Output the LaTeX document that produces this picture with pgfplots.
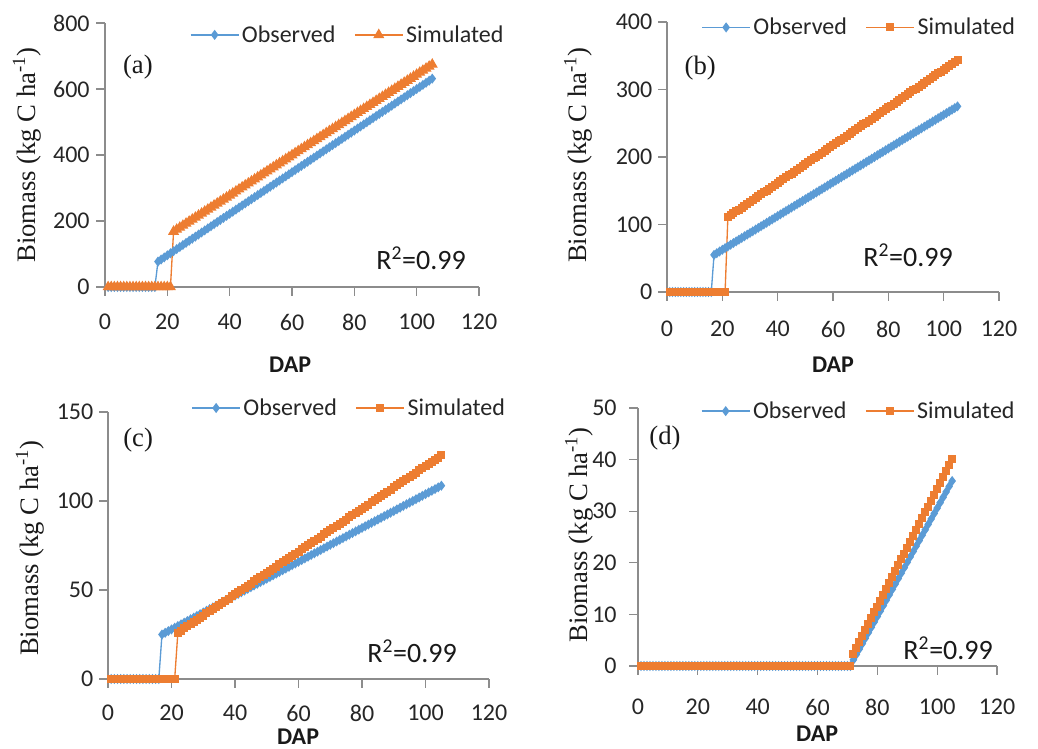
\documentclass[border=0pt]{standalone}
\usepackage{pgfplots}
\usepackage{pgfplotstable}
\pgfplotsset{compat=1.18}
\usepackage{fontspec}
\setmainfont{Carlito}
\newfontfamily\timesf{Liberation Serif}
\definecolor{obs}{HTML}{5B9BD5}
\definecolor{sim}{HTML}{ED7D31}
\definecolor{axgray}{HTML}{8C8C8C}

\pgfplotstableread{
d o s
1 0 0
2 0 0
3 0 0
4 0 0
5 0 0
6 0 0
7 0 0
8 0 0
9 0 0
10 0 0
11 0 0
12 0 0
13 0 0
14 0 0
15 0 0
16 0 0
17 77.0 0
18 83.3 0
19 89.6 0
20 95.9 0
21 102.2 0
22 108.5 168.0
23 114.8 174.1
24 121.1 180.2
25 127.4 186.3
26 133.7 192.4
27 140.0 198.5
28 146.3 204.6
29 152.6 210.7
30 158.9 216.8
31 165.2 222.9
32 171.5 229.0
33 177.8 235.1
34 184.1 241.2
35 190.4 247.3
36 196.7 253.4
37 203.0 259.5
38 209.3 265.6
39 215.6 271.7
40 221.9 277.8
41 228.2 283.9
42 234.5 290.0
43 240.8 296.1
44 247.1 302.2
45 253.4 308.3
46 259.7 314.4
47 266.0 320.5
48 272.3 326.6
49 278.6 332.7
50 284.9 338.8
51 291.2 344.9
52 297.5 351.0
53 303.8 357.1
54 310.1 363.2
55 316.4 369.3
56 322.7 375.4
57 329.0 381.5
58 335.3 387.6
59 341.6 393.7
60 347.9 399.8
61 354.2 405.9
62 360.5 412.0
63 366.8 418.1
64 373.1 424.2
65 379.4 430.3
66 385.7 436.4
67 392.0 442.5
68 398.3 448.6
69 404.6 454.7
70 410.9 460.8
71 417.2 466.9
72 423.5 473.0
73 429.8 479.1
74 436.1 485.2
75 442.4 491.3
76 448.7 497.4
77 455.0 503.5
78 461.3 509.6
79 467.6 515.7
80 473.9 521.8
81 480.2 527.9
82 486.5 534.0
83 492.8 540.1
84 499.1 546.2
85 505.4 552.3
86 511.7 558.4
87 518.0 564.5
88 524.3 570.6
89 530.6 576.7
90 536.9 582.8
91 543.2 588.9
92 549.5 595.0
93 555.8 601.1
94 562.1 607.2
95 568.4 613.3
96 574.7 619.4
97 581.0 625.5
98 587.3 631.6
99 593.6 637.7
100 599.9 643.8
101 606.2 649.9
102 612.5 656.0
103 618.8 662.1
104 625.1 668.2
105 631.4 674.3
}\tabA

\pgfplotstableread{
d o s
1 0 0
2 0 0
3 0 0
4 0 0
5 0 0
6 0 0
7 0 0
8 0 0
9 0 0
10 0 0
11 0 0
12 0 0
13 0 0
14 0 0
15 0 0
16 0 0
17 55.0 0
18 57.5 0
19 60.0 0
20 62.5 0
21 65.0 0
22 67.5 111.0
23 70.0 113.8
24 72.5 116.6
25 75.0 119.4
26 77.5 122.2
27 80.0 125.0
28 82.5 127.8
29 85.0 130.6
30 87.5 133.4
31 90.0 136.2
32 92.5 139.0
33 95.0 141.8
34 97.5 144.6
35 100.0 147.4
36 102.5 150.2
37 105.0 153.0
38 107.5 155.8
39 110.0 158.6
40 112.5 161.4
41 115.0 164.2
42 117.5 167.0
43 120.0 169.8
44 122.5 172.6
45 125.0 175.4
46 127.5 178.2
47 130.0 181.0
48 132.5 183.8
49 135.0 186.6
50 137.5 189.4
51 140.0 192.2
52 142.5 195.0
53 145.0 197.8
54 147.5 200.6
55 150.0 203.4
56 152.5 206.2
57 155.0 209.0
58 157.5 211.8
59 160.0 214.6
60 162.5 217.4
61 165.0 220.2
62 167.5 223.0
63 170.0 225.8
64 172.5 228.6
65 175.0 231.4
66 177.5 234.2
67 180.0 237.0
68 182.5 239.8
69 185.0 242.6
70 187.5 245.4
71 190.0 248.2
72 192.5 251.0
73 195.0 253.8
74 197.5 256.6
75 200.0 259.4
76 202.5 262.2
77 205.0 265.0
78 207.5 267.8
79 210.0 270.6
80 212.5 273.4
81 215.0 276.2
82 217.5 279.0
83 220.0 281.8
84 222.5 284.6
85 225.0 287.4
86 227.5 290.2
87 230.0 293.0
88 232.5 295.8
89 235.0 298.6
90 237.5 301.4
91 240.0 304.2
92 242.5 307.0
93 245.0 309.8
94 247.5 312.6
95 250.0 315.4
96 252.5 318.2
97 255.0 321.0
98 257.5 323.8
99 260.0 326.6
100 262.5 329.4
101 265.0 332.2
102 267.5 335.0
103 270.0 337.8
104 272.5 340.6
105 275.0 343.4
}\tabB

\pgfplotstableread{
d o s
1 0 0
2 0 0
3 0 0
4 0 0
5 0 0
6 0 0
7 0 0
8 0 0
9 0 0
10 0 0
11 0 0
12 0 0
13 0 0
14 0 0
15 0 0
16 0 0
17 25.00 0
18 25.95 0
19 26.90 0
20 27.85 0
21 28.80 0
22 29.75 26.0
23 30.70 27.2
24 31.65 28.4
25 32.60 29.6
26 33.55 30.8
27 34.50 32.0
28 35.45 33.2
29 36.40 34.4
30 37.35 35.6
31 38.30 36.8
32 39.25 38.0
33 40.20 39.2
34 41.15 40.4
35 42.10 41.6
36 43.05 42.8
37 44.00 44.0
38 44.95 45.2
39 45.90 46.4
40 46.85 47.6
41 47.80 48.8
42 48.75 50.0
43 49.70 51.2
44 50.65 52.4
45 51.60 53.6
46 52.55 54.8
47 53.50 56.0
48 54.45 57.2
49 55.40 58.4
50 56.35 59.6
51 57.30 60.8
52 58.25 62.0
53 59.20 63.2
54 60.15 64.4
55 61.10 65.6
56 62.05 66.8
57 63.00 68.0
58 63.95 69.2
59 64.90 70.4
60 65.85 71.6
61 66.80 72.8
62 67.75 74.0
63 68.70 75.2
64 69.65 76.4
65 70.60 77.6
66 71.55 78.8
67 72.50 80.0
68 73.45 81.2
69 74.40 82.4
70 75.35 83.6
71 76.30 84.8
72 77.25 86.0
73 78.20 87.2
74 79.15 88.4
75 80.10 89.6
76 81.05 90.8
77 82.00 92.0
78 82.95 93.2
79 83.90 94.4
80 84.85 95.6
81 85.80 96.8
82 86.75 98.0
83 87.70 99.2
84 88.65 100.4
85 89.60 101.6
86 90.55 102.8
87 91.50 104.0
88 92.45 105.2
89 93.40 106.4
90 94.35 107.6
91 95.30 108.8
92 96.25 110.0
93 97.20 111.2
94 98.15 112.4
95 99.10 113.6
96 100.05 114.8
97 101.00 116.0
98 101.95 117.2
99 102.90 118.4
100 103.85 119.6
101 104.80 120.8
102 105.75 122.0
103 106.70 123.2
104 107.65 124.4
105 108.60 125.6
}\tabC

\pgfplotstableread{
d o s
1 0 0
2 0 0
3 0 0
4 0 0
5 0 0
6 0 0
7 0 0
8 0 0
9 0 0
10 0 0
11 0 0
12 0 0
13 0 0
14 0 0
15 0 0
16 0 0
17 0 0
18 0 0
19 0 0
20 0 0
21 0 0
22 0 0
23 0 0
24 0 0
25 0 0
26 0 0
27 0 0
28 0 0
29 0 0
30 0 0
31 0 0
32 0 0
33 0 0
34 0 0
35 0 0
36 0 0
37 0 0
38 0 0
39 0 0
40 0 0
41 0 0
42 0 0
43 0 0
44 0 0
45 0 0
46 0 0
47 0 0
48 0 0
49 0 0
50 0 0
51 0 0
52 0 0
53 0 0
54 0 0
55 0 0
56 0 0
57 0 0
58 0 0
59 0 0
60 0 0
61 0 0
62 0 0
63 0 0
64 0 0
65 0 0
66 0 0
67 0 0
68 0 0
69 0 0
70 0 0
71 0 0
72 1.20 2.40
73 2.25 3.54
74 3.30 4.68
75 4.35 5.82
76 5.40 6.96
77 6.45 8.10
78 7.50 9.24
79 8.55 10.38
80 9.60 11.52
81 10.65 12.66
82 11.70 13.80
83 12.75 14.94
84 13.80 16.08
85 14.85 17.22
86 15.90 18.36
87 16.95 19.50
88 18.00 20.64
89 19.05 21.78
90 20.10 22.92
91 21.15 24.06
92 22.20 25.20
93 23.25 26.34
94 24.30 27.48
95 25.35 28.62
96 26.40 29.76
97 27.45 30.90
98 28.50 32.04
99 29.55 33.18
100 30.60 34.32
101 31.65 35.46
102 32.70 36.60
103 33.75 37.74
104 34.80 38.88
105 35.85 40.02
}\tabD

\tikzset{
  rtext/.style={font=\fontsize{21}{23}\selectfont, text=black!90},
  ptext/.style={font=\timesf\fontsize{20}{22}\selectfont, text=black!90},
}
\pgfplotsset{
  panel/.style={
    scale only axis, clip=false, anchor=south west,
    axis x line*=bottom, axis y line*=left,
    axis line style={-, axgray, line width=0.8pt},
    every tick/.style={axgray, line width=0.8pt},
    tick align=outside, major tick length=6.5pt,
    xmin=0, xmax=120, xtick={0,20,...,120},
    ticklabel style={font=\fontsize{18}{20}\selectfont, text=black!85},
    /pgf/number format/assume math mode=true,
    xlabel={\bfseries DAP},
    xlabel style={font=\fontsize{18}{20}\selectfont, anchor=center, text=black!90},
    ylabel={\timesf Biomass (kg C ha\textsuperscript{-1})},
    ylabel style={font=\fontsize{20}{22}\selectfont, anchor=center, text=black!90},
    legend columns=2,
    legend style={draw=none, fill=none, anchor=center,
      font=\fontsize{18}{20}\selectfont, text=black!85,
      /tikz/every even column/.append style={column sep=12pt}},
    legend image code/.code={\draw[mark repeat=2,mark phase=2,##1] plot coordinates {(0pt,0pt) (18pt,0pt) (36pt,0pt)};},
  },
  obsplot/.style={color=obs, line width=1pt, mark=diamond*, mark size=3pt, mark options={solid, fill=obs, draw=obs}},
  simsq/.style={color=sim, line width=1pt, mark=square*, mark size=2.5pt, mark options={solid, fill=sim, draw=sim}},
  simtri/.style={color=sim, line width=1pt, mark=triangle*, mark size=3.8pt, mark options={solid, fill=sim, draw=sim}},
}

\begin{document}
\begin{tikzpicture}
\useasboundingbox (0,0) rectangle (778.5pt,561.75pt);
% (a)
\begin{axis}[panel, at={(78.75pt,346.5pt)}, width=280.5pt, height=198pt,
  ymin=0, ymax=800, ytick={0,200,...,800},
  xticklabel style={yshift=-10.5pt}, yticklabel style={xshift=-1.5pt},
  xlabel style={at={(axis description cs:0.495,-0.295)}},
  ylabel style={at={(axis description cs:-0.209,0.5)}},
  legend style={at={(axis description cs:0.65,0.955)}}]
\addplot[obsplot] table[x=d,y=o] {\tabA};
\addlegendentry{Observed}
\addplot[simtri] table[x=d,y=s] {\tabA};
\addlegendentry{Simulated}
\node[ptext] at (rel axis cs:0.088,0.833) {(a)};
\node[rtext] at (rel axis cs:0.845,0.11) {R\textsuperscript{2}=0.99};
\end{axis}
% (b)
\begin{axis}[panel, at={(500.25pt,342.75pt)}, width=249pt, height=202.5pt,
  ymin=0, ymax=400, ytick={0,100,...,400},
  xticklabel style={yshift=-12pt}, yticklabel style={xshift=-1pt},
  xlabel style={at={(axis description cs:0.5,-0.27)}},
  ylabel style={at={(axis description cs:-0.268,0.507)}},
  legend style={at={(axis description cs:0.58,0.98)}}]
\addplot[obsplot] table[x=d,y=o] {\tabB};
\addlegendentry{Observed}
\addplot[simsq] table[x=d,y=s] {\tabB};
\addlegendentry{Simulated}
\node[ptext] at (rel axis cs:0.1,0.83) {(b)};
\node[rtext] at (rel axis cs:0.726,0.137) {R\textsuperscript{2}=0.99};
\end{axis}
% (c)
\begin{axis}[panel, at={(81pt,52.5pt)}, width=285.75pt, height=200.25pt,
  ymin=0, ymax=150, ytick={0,50,100,150},
  xticklabel style={yshift=-9.5pt}, yticklabel style={xshift=-1pt},
  xlabel style={at={(axis description cs:0.499,-0.217)}, inner sep=1pt},
  ylabel style={at={(axis description cs:-0.205,0.49)}},
  legend style={at={(axis description cs:0.634,1.015)}}]
\addplot[obsplot] table[x=d,y=o] {\tabC};
\addlegendentry{Observed}
\addplot[simsq] table[x=d,y=s] {\tabC};
\addlegendentry{Simulated}
\node[ptext] at (rel axis cs:0.079,0.895) {(c)};
\node[rtext] at (rel axis cs:0.798,0.105) {R\textsuperscript{2}=0.99};
\end{axis}
% (d)
\begin{axis}[panel, at={(478.5pt,62.25pt)}, width=269.25pt, height=193.5pt,
  ymin=0, ymax=50, ytick={0,10,...,50},
  xticklabel style={yshift=-15pt}, yticklabel style={xshift=-6pt},
  xlabel style={at={(axis description cs:0.499,-0.262)}},
  ylabel style={at={(axis description cs:-0.164,0.508)}},
  legend style={at={(axis description cs:0.616,0.988)}}]
\addplot[obsplot] table[x=d,y=o] {\tabD};
\addlegendentry{Observed}
\addplot[simsq] table[x=d,y=s] {\tabD};
\addlegendentry{Simulated}
\node[ptext] at (rel axis cs:0.075,0.884) {(d)};
\node[rtext] at (rel axis cs:0.864,0.07) {R\textsuperscript{2}=0.99};
\end{axis}
\end{tikzpicture}
\end{document}
